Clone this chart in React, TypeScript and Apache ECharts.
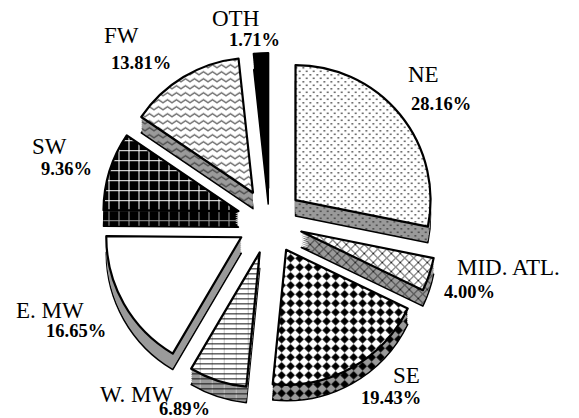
import { useEffect, useRef } from "react";
import * as echarts from "echarts";

// ---- data ----
const categories = ["NE", "MID. ATL.", "SE", "W. MW", "E. MW", "SW", "FW", "OTH"];
const shares = [28.16, 4.0, 19.43, 6.89, 16.65, 9.36, 13.81, 1.71];

// ---- layout (label anchors: left x, text middle y) ----
const NAME_POS = [
  [408, 74.5], [457, 267.5], [393, 375.5], [100, 394.5],
  [16, 310.5], [32, 146.5], [104, 35.5], [212, 18.5],
];
const PCT_POS = [
  [411, 103.7], [444, 291.7], [361, 397.7], [159, 409.2],
  [46, 330.7], [41, 168.7], [111, 62.7], [229, 39.7],
];
const CX = 270;
const CY = 221;
const R = 135;
const EXPLODE = 33;
const DEPTH_LAYERS = [16, 14, 12, 10, 8, 6, 4, 2];
const GRAY = "#9a9a9a";
const FONT = "Liberation Serif, Times New Roman, serif";

type Draw = (ctx: CanvasRenderingContext2D, w: number, h: number) => void;

function pat(w: number, h: number, bg: string, draw?: Draw) {
  const c = document.createElement("canvas");
  c.width = w;
  c.height = h;
  const ctx = c.getContext("2d")!;
  ctx.fillStyle = bg;
  ctx.fillRect(0, 0, w, h);
  if (draw) draw(ctx, w, h);
  return { image: c, repeat: "repeat", imageWidth: w, imageHeight: h };
}

const dots = (bg: string) =>
  pat(7, 7, bg, (ctx) => {
    ctx.fillStyle = "#333";
    ctx.fillRect(0.5, 0.5, 1.5, 1.5);
    ctx.fillRect(4, 4, 1.5, 1.5);
  });

const cross = (bg: string) =>
  pat(9, 9, bg, (ctx) => {
    ctx.strokeStyle = "#222";
    ctx.lineWidth = 1;
    ctx.beginPath();
    for (const o of [-9, 0, 9]) {
      ctx.moveTo(o - 1, -1);
      ctx.lineTo(o + 10, 10);
      ctx.moveTo(o + 10, -1);
      ctx.lineTo(o - 1, 10);
    }
    ctx.stroke();
  });

const diamonds = (bg: string) =>
  pat(9, 9, bg, (ctx) => {
    ctx.fillStyle = "#000";
    const h = 4.3;
    ctx.beginPath();
    ctx.moveTo(4.5, 4.5 - h);
    ctx.lineTo(4.5 + h, 4.5);
    ctx.lineTo(4.5, 4.5 + h);
    ctx.lineTo(4.5 - h, 4.5);
    ctx.closePath();
    ctx.fill();
  });

const hlines = (bg: string) =>
  pat(12, 5, bg, (ctx) => {
    ctx.fillStyle = "#c4c4c4";
    ctx.fillRect(6, 0, 1, 5);
    ctx.fillStyle = "#111";
    ctx.fillRect(0, 2, 12, 1);
  });

const grid = (line: string) =>
  pat(10, 10, "#000", (ctx) => {
    ctx.fillStyle = line;
    ctx.fillRect(0, 0, 10, 1);
    ctx.fillRect(0, 0, 1, 10);
  });

const waves = (bg: string, stroke: string) =>
  pat(9, 7, bg, (ctx) => {
    ctx.strokeStyle = stroke;
    ctx.lineWidth = 1.3;
    ctx.beginPath();
    ctx.moveTo(-4.5, 2);
    ctx.lineTo(0, 5);
    ctx.lineTo(4.5, 2);
    ctx.lineTo(9, 5);
    ctx.lineTo(13.5, 2);
    ctx.stroke();
  });

export default function App() {
  const ref = useRef<HTMLDivElement>(null);

  useEffect(() => {
    document.body.style.margin = "0";
    const chart = echarts.init(ref.current!, null, { renderer: "svg" });

    const faceFills: any[] = [
      dots("#fff"),
      cross("#fff"),
      diamonds("#fff"),
      hlines("#fff"),
      "#fff",
      grid("#fff"),
      waves("#fff", "#555"),
      "#000",
    ];
    const sideFills: any[] = [
      dots(GRAY),
      cross(GRAY),
      diamonds(GRAY),
      hlines(GRAY),
      GRAY,
      grid(GRAY),
      waves(GRAY, "#444"),
      "#000",
    ];

    const base = {
      type: "pie",
      radius: R,
      startAngle: 90,
      clockwise: true,
      avoidLabelOverlap: false,
      silent: true,
      emphasis: { disabled: true, scale: false },
      labelLine: { show: false },
    };

    const depthSeries = DEPTH_LAYERS.map((d, li) => {
      const bw = li === 0 ? 1.5 : 0;
      return {
        ...base,
        selectedMode: "multiple",
        selectedOffset: EXPLODE,
        center: [CX, CY + d],
        itemStyle: { borderColor: "#000", borderWidth: bw },
        select: { itemStyle: { borderColor: "#000", borderWidth: bw } },
        label: { show: false },
        data: categories.map((name, i) => ({
          name,
          value: shares[i],
          selected: true,
          itemStyle: { color: sideFills[i] },
        })),
      };
    });

    const faceSeries = {
      ...base,
      selectedMode: "multiple",
      selectedOffset: EXPLODE,
      center: [CX, CY],
      itemStyle: { borderColor: "#000", borderWidth: 2.2 },
      select: { itemStyle: { borderColor: "#000", borderWidth: 2.2 } },
      label: { show: false },
      data: categories.map((name, i) => ({
        name,
        value: shares[i],
        selected: true,
        itemStyle: { color: faceFills[i] },
      })),
    };

    const labelSeries = (pos: number[][], lab: any) => ({
      ...base,
      selectedMode: false,
      center: [CX, CY],
      z: 5,
      itemStyle: { color: "rgba(0,0,0,0)", borderWidth: 0 },
      label: { show: true, position: "outside", color: "#000", fontFamily: FONT, ...lab },
      labelLayout: (p: any) => ({
        x: pos[p.dataIndex][0],
        y: pos[p.dataIndex][1],
        align: "left",
        verticalAlign: "middle",
      }),
      data: categories.map((name, i) => ({ name, value: shares[i] })),
    });

    chart.setOption({
      animation: false,
      backgroundColor: "#fff",
      series: [
        ...depthSeries,
        faceSeries,
        labelSeries(NAME_POS, { formatter: "{b}", fontSize: 23 }),
        labelSeries(PCT_POS, {
          formatter: (p: any) => shares[p.dataIndex].toFixed(2) + "%",
          fontSize: 18.5,
          fontWeight: "bold",
        }),
      ],
    } as any);

    return () => chart.dispose();
  }, []);

  return <div ref={ref} style={{ width: 579, height: 418 }} />;
}
